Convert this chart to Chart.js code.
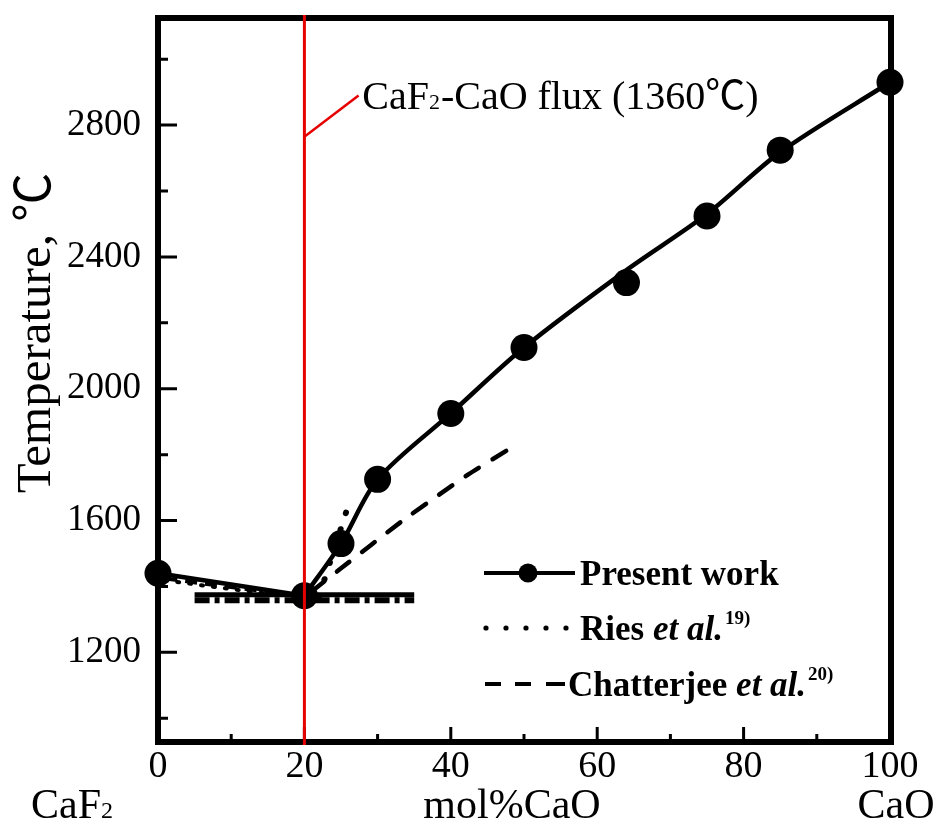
<!DOCTYPE html>
<html>
<head>
<meta charset="utf-8">
<script src="https://cdn.jsdelivr.net/npm/chart.js@4.4.1/dist/chart.umd.min.js"></script>
<style>
  html, body { margin: 0; padding: 0; background: #fff; }
  canvas { display: block; }
</style>
</head>
<body>
<canvas id="chart" width="947" height="833"></canvas>
<script>
// Liquidus of the CaF2–CaO system (present work, measured points)
const presentX = [0, 20, 25, 30, 40, 50, 64, 75, 85, 100];
const presentY = [1440, 1372, 1530, 1725, 1925, 2125, 2322, 2524, 2724, 2930];

// Smoothed liquidus drawn through the measurements (CaO-rich side)
const curveX = [20, 25, 30, 40, 50, 64, 75, 85, 100];
const curveY = [1372, 1530, 1725, 1925, 2125, 2360, 2530, 2718, 2930];

// CaF2-rich branch
const leftX = [0, 20];
const leftY = [1440, 1372];

// Eutectic isotherms
const isoX = [5, 35];
const isoSolidY = [1375, 1375];
const isoDashDotY = [1358, 1358];

// Ries et al.
const riesLeftX = [1, 17];
const riesLeftY = [1418, 1372];
const riesRightX = [22, 26.2];
const riesRightY = [1370, 1660];

// Chatterjee et al.
const chatLeftX = [1, 17];
const chatLeftY = [1424, 1378];
const chatRightX = [21, 25, 33.5, 42.4, 48.2];
const chatRightY = [1385, 1455, 1601, 1740, 1820];

// Flux composition marker
const fluxX = 20;

// Axes
const xTicks = [0, 10, 20, 30, 40, 50, 60, 70, 80, 90, 100];
const xLabelled = [0, 20, 40, 60, 80, 100];
const yTicks = [1000, 1200, 1400, 1600, 1800, 2000, 2200, 2400, 2600, 2800, 3000];
const yLabelled = [1200, 1600, 2000, 2400, 2800];
const yMin = 928, yMax = 3125;

const SERIF = '"Liberation Serif", "Noto Sans CJK JP", serif';
const zip = (xs, ys) => xs.map((x, i) => ({ x, y: ys[i] }));

function lineSet(xs, ys, extra) {
  return Object.assign({
    data: zip(xs, ys),
    showLine: true,
    borderColor: '#000',
    backgroundColor: '#000',
    borderWidth: 4.5,
    pointRadius: 0,
    pointHoverRadius: 0,
    clip: false
  }, extra || {});
}

const datasets = [
  lineSet(chatLeftX, chatLeftY, { borderDash: [12, 8], borderWidth: 4 }),
  lineSet(riesLeftX, riesLeftY, { borderDash: [2, 10], borderWidth: 4, borderCapStyle: 'round' }),
  lineSet(chatRightX, chatRightY, { borderDash: [16, 16], borderWidth: 4.5, borderCapStyle: 'round', tension: 0.2 }),
  lineSet(riesRightX, riesRightY, { borderDash: [0.5, 17], borderWidth: 6, borderCapStyle: 'round' }),
  lineSet(isoX, isoDashDotY, { borderDash: [15, 5, 5, 5], borderWidth: 6 }),
  lineSet(isoX, isoSolidY, { borderWidth: 5 }),
  lineSet(leftX, leftY, { borderWidth: 4.5 }),
  lineSet(curveX, curveY, { borderWidth: 4.5, tension: 0.3 }),
  {
    data: zip(presentX, presentY),
    showLine: false,
    pointRadius: 13.5,
    pointHoverRadius: 13.5,
    pointBackgroundColor: '#000',
    pointBorderColor: '#000',
    pointBorderWidth: 0,
    clip: false
  }
];

// Frame, inward ticks, flux marker, axis titles and key
const decorations = {
  id: 'decorations',
  afterDatasetsDraw(chart) {
    const ctx = chart.ctx;
    const a = chart.chartArea;
    const xs = chart.scales.x, ys = chart.scales.y;
    ctx.save();

    // frame
    ctx.strokeStyle = '#000';
    ctx.lineWidth = 6;
    ctx.strokeRect(a.left, a.top, a.right + 1 - a.left, a.bottom - a.top);

    // inward tick marks
    ctx.lineWidth = 3;
    ctx.beginPath();
    xTicks.forEach(v => {
      const px = xs.getPixelForValue(v);
      const len = xLabelled.includes(v) ? 15 : 8;
      ctx.moveTo(px, a.bottom);
      ctx.lineTo(px, a.bottom - len);
    });
    yTicks.forEach(v => {
      const py = ys.getPixelForValue(v);
      const len = yLabelled.includes(v) ? 19 : 10;
      ctx.moveTo(a.left, py);
      ctx.lineTo(a.left + len, py);
    });
    ctx.stroke();

    // flux composition line and its label
    const rx = xs.getPixelForValue(fluxX);
    ctx.strokeStyle = '#e60000';
    ctx.lineWidth = 3;
    ctx.beginPath();
    ctx.moveTo(rx, a.top - 3);
    ctx.lineTo(rx, a.bottom + 3);
    ctx.stroke();
    ctx.lineWidth = 2.5;
    ctx.beginPath();
    ctx.moveTo(rx, ys.getPixelForValue(2765));
    ctx.lineTo(xs.getPixelForValue(27.4), ys.getPixelForValue(2890));
    ctx.stroke();

    ctx.fillStyle = '#000';
    ctx.textBaseline = 'alphabetic';
    ctx.textAlign = 'left';
    let tx = xs.getPixelForValue(27.9);
    const tb = ys.getPixelForValue(2850);
    ctx.font = '40px ' + SERIF;
    ctx.fillText('CaF', tx, tb);
    tx += ctx.measureText('CaF').width;
    ctx.font = '22px ' + SERIF;
    ctx.fillText('2', tx, tb);
    tx += ctx.measureText('2').width + 1;
    ctx.font = '40px ' + SERIF;
    ctx.fillText('-CaO flux (1360\u2103)', tx, tb);

    // x-axis captions
    ctx.font = '42px ' + SERIF;
    const capBase = 818;
    const cw = ctx.measureText('CaF').width;
    ctx.font = '24px ' + SERIF;
    const sw = ctx.measureText('2').width;
    let cx = 72 - (cw + sw) / 2;
    ctx.font = '42px ' + SERIF;
    ctx.fillText('CaF', cx, capBase);
    ctx.font = '24px ' + SERIF;
    ctx.fillText('2', cx + cw, capBase);
    ctx.font = '42px ' + SERIF;
    ctx.textAlign = 'center';
    ctx.fillText('mol%CaO', 512, capBase);
    ctx.fillText('CaO', 896, capBase);

    // y-axis title
    ctx.save();
    ctx.translate(37, 333);
    ctx.rotate(-Math.PI / 2);
    ctx.font = '49px ' + SERIF;
    ctx.textAlign = 'center';
    ctx.textBaseline = 'middle';
    ctx.fillText('Temperature, \u2103', 0, 0);
    ctx.restore();

    // key
    ctx.textAlign = 'left';
    ctx.strokeStyle = '#000';
    ctx.fillStyle = '#000';
    // row 1
    ctx.lineWidth = 4;
    ctx.beginPath();
    ctx.moveTo(484, 573); ctx.lineTo(575, 573);
    ctx.stroke();
    ctx.beginPath();
    ctx.arc(528, 573, 9.5, 0, Math.PI * 2);
    ctx.fill();
    ctx.font = 'bold 35px ' + SERIF;
    ctx.fillText('Present work', 580, 585);
    // row 2
    for (let i = 0; i < 5; i++) {
      ctx.beginPath();
      ctx.arc(486 + i * 20, 628, 2.6, 0, Math.PI * 2);
      ctx.fill();
    }
    let lx = 580;
    ctx.font = 'bold 35px ' + SERIF;
    ctx.fillText('Ries ', lx, 640);
    lx += ctx.measureText('Ries ').width;
    ctx.font = 'italic bold 35px ' + SERIF;
    ctx.fillText('et al.', lx, 640);
    lx += ctx.measureText('et al.').width + 2;
    ctx.font = 'bold 19px ' + SERIF;
    ctx.fillText('19)', lx, 624);
    // row 3
    ctx.lineWidth = 4;
    ctx.beginPath();
    [[485, 501], [515, 531], [546, 565]].forEach(([s, e]) => {
      ctx.moveTo(s, 684); ctx.lineTo(e, 684);
    });
    ctx.stroke();
    lx = 568;
    ctx.font = 'bold 35px ' + SERIF;
    ctx.fillText('Chatterjee ', lx, 696);
    lx += ctx.measureText('Chatterjee ').width;
    ctx.font = 'italic bold 35px ' + SERIF;
    ctx.fillText('et al.', lx, 696);
    lx += ctx.measureText('et al.').width + 2;
    ctx.font = 'bold 19px ' + SERIF;
    ctx.fillText('20)', lx, 680);

    ctx.restore();
  }
};

new Chart(document.getElementById('chart'), {
  type: 'scatter',
  data: { datasets },
  options: {
    responsive: false,
    animation: false,
    devicePixelRatio: 1,
    events: [],
    layout: { padding: { left: 0, right: 57, top: 18, bottom: 0 } },
    plugins: { legend: { display: false }, tooltip: { enabled: false } },
    scales: {
      x: {
        type: 'linear',
        min: 0,
        max: 100,
        grid: { display: false, drawTicks: false },
        border: { display: false },
        afterBuildTicks: s => { s.ticks = xTicks.map(v => ({ value: v })); },
        afterFit: s => { s.height = 91; s.paddingLeft = 0; s.paddingRight = 0; },
        ticks: {
          autoSkip: false,
          maxRotation: 0,
          padding: 2,
          color: '#000',
          font: { family: SERIF, size: 38 },
          callback: v => (xLabelled.includes(v) ? String(v) : '')
        }
      },
      y: {
        type: 'linear',
        min: yMin,
        max: yMax,
        grid: { display: false, drawTicks: false },
        border: { display: false },
        afterBuildTicks: s => { s.ticks = yTicks.map(v => ({ value: v })); },
        afterFit: s => { s.width = 158; s.paddingTop = 0; s.paddingBottom = 0; },
        ticks: {
          autoSkip: false,
          padding: 17,
          color: '#000',
          font: { family: SERIF, size: 37 },
          callback: v => (yLabelled.includes(v) ? String(v) : '')
        }
      }
    }
  },
  plugins: [decorations]
});
</script>
</body>
</html>
